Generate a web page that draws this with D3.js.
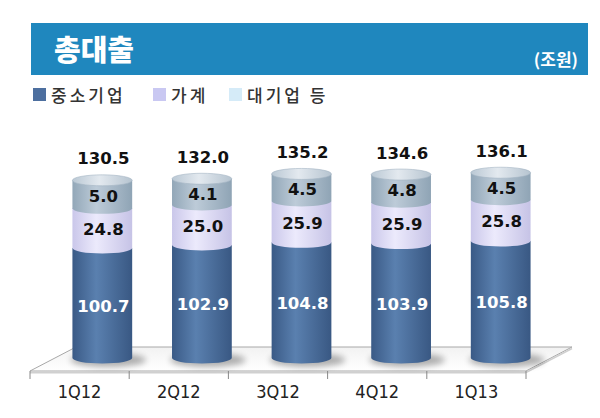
<!DOCTYPE html>
<html><head><meta charset="utf-8">
<script src="https://cdn.jsdelivr.net/npm/d3@7/dist/d3.min.js"></script>
<style>html,body{margin:0;padding:0;background:#fff;}svg{display:block;}</style>
</head><body>
<svg id="chart" width="600" height="418"></svg>
<script>
const categories = ['1Q12','2Q12','3Q12','4Q12','1Q13'];
const seriesNames = ['중소기업','가계','대기업 등'];
const sme = [100.7,102.9,104.8,103.9,105.8];
const household = [24.8,25.0,25.9,25.9,25.8];
const large = [5.0,4.1,4.5,4.8,4.5];
const totals = [130.5,132.0,135.2,134.6,136.1];
const title = '총대출';
const unit = '(조원)';

const svg = d3.select('#chart');
const defs = svg.append('defs');

function hGrad(id, stops){
  const g = defs.append('linearGradient').attr('id', id).attr('x1','0%').attr('x2','100%').attr('y1','0%').attr('y2','0%');
  stops.forEach(s => g.append('stop').attr('offset', s[0]).attr('stop-color', s[1]));
}
hGrad('gDark', [['0%','#3a5a86'],['40%','#5a80af'],['100%','#395883']]);
hGrad('gLav', [['0%','#cac7ea'],['40%','#eceafc'],['100%','#c6c3e6']]);
hGrad('gGray', [['0%','#92a7b8'],['40%','#bdcbd8'],['100%','#8fa4b5']]);
hGrad('gTop', [['0%','#bac8d4'],['45%','#e3e9ef'],['100%','#b6c4d0']]);
const fg = defs.append('linearGradient').attr('id','gFloor').attr('x1','0%').attr('x2','0%').attr('y1','0%').attr('y2','100%');
fg.append('stop').attr('offset','0%').attr('stop-color','#f2f2f2');
fg.append('stop').attr('offset','100%').attr('stop-color','#ffffff');
const blur = defs.append('filter').attr('id','blur').attr('x','-50%').attr('y','-50%').attr('width','200%').attr('height','200%');
blur.append('feGaussianBlur').attr('stdDeviation', 3);

// Banner
svg.append('rect').attr('x',31).attr('y',23).attr('width',557).attr('height',52).attr('fill','#1f87be');
svg.append('text').attr('x',54).attr('y',61).text(title)
  .attr('font-family','"Noto Sans CJK KR"').attr('font-weight',900).attr('font-size',29).attr('fill','#fff');
svg.append('text').attr('x',578).attr('y',66).attr('text-anchor','end').text(unit)
  .attr('font-family','"Noto Sans CJK KR"').attr('font-weight',700).attr('font-size',17).attr('fill','#fff');

// Legend
const legendColors = ['#4d6f9f','#c9c8f2','#d5ebf8'];
const legendX = [33, 153, 229];
seriesNames.forEach((n,i) => {
  svg.append('rect').attr('x',legendX[i]).attr('y',88).attr('width',13).attr('height',13).attr('fill',legendColors[i]);
  svg.append('text').attr('x',legendX[i]+18).attr('y',102).text(n)
    .attr('font-family','"Noto Sans CJK KR"').attr('font-weight',500).attr('font-size',17)
    .attr('letter-spacing',3).attr('fill','#333');
});

// Scales
const baseY = 358;
const x = d3.scaleBand().domain(categories).range([52.5, 550.5]).paddingInner(0.4).paddingOuter(0.2);
const xAxisScale = d3.scaleBand().domain(categories).range([30, 526]);
const hSme = d3.scaleLinear().domain([20.5, 105.8]).range([0, 117]);
const hHh = d3.scaleLinear().domain([0, 25]).range([0, 40]);
const hLg = d3.scaleLinear().domain([0, 5]).range([18, 28]);
const depth = [46, -24];

// Floor
const fl = xAxisScale.range()[0], fr = xAxisScale.range()[1], fy = 371;
svg.append('path')
  .attr('d', `M${fl},${fy} L${fr},${fy} L${fr+depth[0]},${fy+depth[1]} L${fl+depth[0]},${fy+depth[1]} Z`)
  .attr('fill','url(#gFloor)').attr('stroke','#a8a8a8').attr('stroke-width',1);
svg.append('line').attr('x1',fl).attr('x2',fr).attr('y1',fy+1.5).attr('y2',fy+1.5).attr('stroke','#d0d0d0').attr('stroke-width',2);
svg.append('line').attr('x1',fr).attr('x2',fr+depth[0]).attr('y1',fy+1.5).attr('y2',fy+depth[1]+1.5).attr('stroke','#d0d0d0').attr('stroke-width',1.5);
const edges = categories.map(c => xAxisScale(c)).concat([fr]);
edges.forEach(e => svg.append('line').attr('x1',e).attr('x2',e).attr('y1',fy).attr('y2',fy+8).attr('stroke','#888').attr('stroke-width',1));

// axis labels
const axis = d3.axisBottom(xAxisScale).tickSize(0).tickPadding(0);
const ag = svg.append('g').attr('transform',`translate(0,${fy+27})`).call(axis);
ag.select('.domain').remove();
ag.selectAll('text').attr('font-family','"DejaVu Sans Condensed","DejaVu Sans"').attr('font-size',18)
  .attr('fill','#222').attr('dy','0');

// Bars
const rx = x.bandwidth()/2, ry = 5.5;
const bars = categories.map((c,i) => {
  const y0 = baseY;
  const y1 = y0 - hSme(sme[i]);
  const y2 = y1 - hHh(household[i]);
  const y3 = y2 - hLg(large[i]);
  return {c, i, cx: x(c)+rx, left: x(c), right: x(c)+x.bandwidth(), y0, y1, y2, y3};
});

const g = svg.append('g');
g.selectAll('.shadow').data(bars).join('ellipse')
  .attr('cx', d => d.cx + 6).attr('cy', d => d.y0 + 2).attr('rx', rx + 8).attr('ry', 7)
  .attr('fill','#000').attr('opacity',0.3).attr('filter','url(#blur)');

function segPath(d, yTop, yBot){
  return `M${d.left},${yTop} L${d.left},${yBot} A${rx},${ry} 0 0 0 ${d.right},${yBot} L${d.right},${yTop} Z`;
}
g.selectAll('.seg-dark').data(bars).join('path').attr('d', d => segPath(d, d.y1, d.y0)).attr('fill','url(#gDark)');
g.selectAll('.seg-lav').data(bars).join('path').attr('d', d => segPath(d, d.y2, d.y1)).attr('fill','url(#gLav)');
g.selectAll('.seg-gray').data(bars).join('path').attr('d', d => segPath(d, d.y3, d.y2)).attr('fill','url(#gGray)');
g.selectAll('.top').data(bars).join('ellipse')
  .attr('cx', d => d.cx).attr('cy', d => d.y3).attr('rx', rx).attr('ry', ry)
  .attr('fill','url(#gTop)').attr('stroke','#a3b4c2').attr('stroke-width',0.6);

const lblFont = '"DejaVu Sans"';
function lbl(sel, yFn, txtFn, color){
  sel.data(bars).join('text')
    .attr('x', d => d.cx + 1).attr('y', yFn).attr('text-anchor','middle').attr('dy','0.36em')
    .attr('font-family', lblFont).attr('font-weight','bold').attr('font-size',16.5)
    .attr('fill', color).text(txtFn);
}
lbl(g.selectAll('.l-sme'), d => (d.y0 + d.y1)/2 + 3, d => sme[d.i].toFixed(1), '#fff');
lbl(g.selectAll('.l-hh'), d => (d.y1 + d.y2)/2 + 1, d => household[d.i].toFixed(1), '#111');
lbl(g.selectAll('.l-lg'), d => (d.y2 + d.y3)/2 + 2, d => large[d.i].toFixed(1), '#111');
lbl(g.selectAll('.l-tot'), d => d.y3 - 22, d => totals[d.i].toFixed(1), '#111');
</script>
</body></html>
